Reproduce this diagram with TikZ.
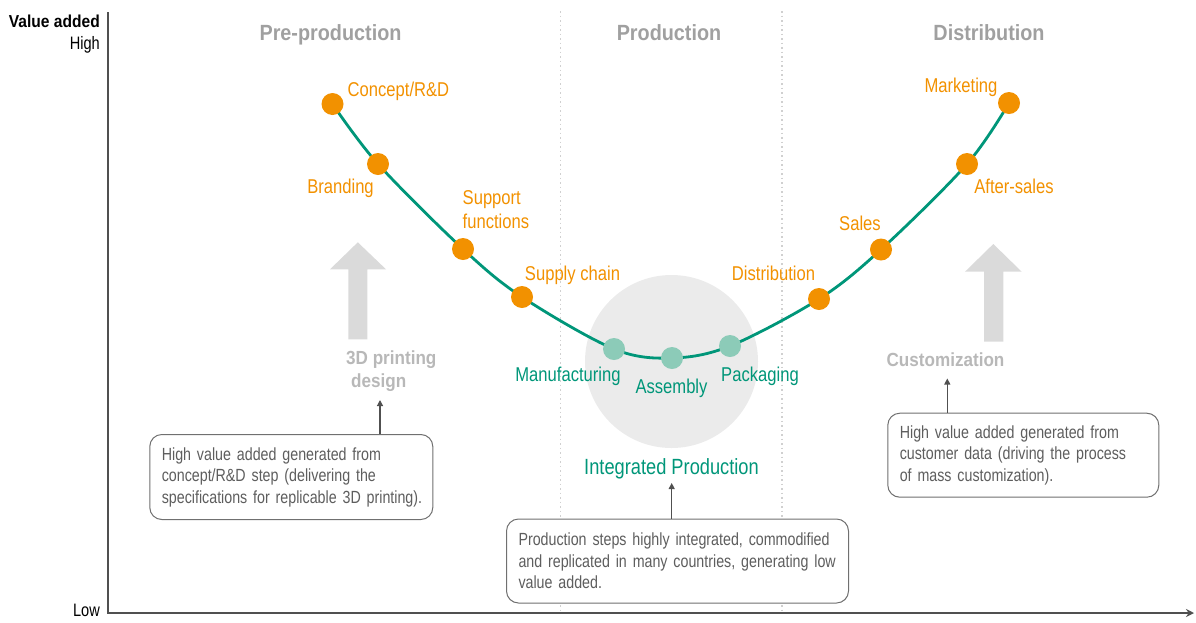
\documentclass[tikz,border=0pt]{standalone}
\usepackage{fontspec}
\setmainfont{Liberation Sans}[FakeStretch=0.81]
\newfontfamily\hdfont{Liberation Sans}[FakeStretch=0.9]
\newfontfamily\lbfont{Liberation Sans}[FakeStretch=0.83]
\usetikzlibrary{arrows.meta}
\definecolor{orng}{HTML}{F29100}
\definecolor{teal}{HTML}{009679}
\definecolor{lteal}{HTML}{8CCBB8}
\definecolor{hdgray}{HTML}{A0A0A0}
\definecolor{subgray}{HTML}{B8B8B8}
\definecolor{arrgray}{HTML}{DADADA}
\definecolor{circgray}{HTML}{EBEBEB}
\definecolor{axgray}{HTML}{505050}
\definecolor{boxgray}{HTML}{707070}
\definecolor{txtgray}{HTML}{5E5E5E}
\definecolor{dotgray}{HTML}{D0D0D0}
\begin{document}
\begin{tikzpicture}[x=1pt,y=-1pt,
  lbl/.style={font=\lbfont\fontsize{20}{24}\selectfont, text=orng, inner sep=0pt, text height=14pt, text depth=0pt},
  mlbl/.style={font=\lbfont\fontsize{20}{24}\selectfont, text=orng, inner sep=0pt, align=left},
  tlbl/.style={lbl, text=teal},
  hdr/.style={font=\hdfont\bfseries\fontsize{22}{26}\selectfont, text=hdgray, inner sep=0pt, text height=16pt, text depth=0pt},
  sublbl/.style={font=\hdfont\bfseries\fontsize{19}{23.5}\selectfont, text=subgray, inner sep=0pt},
  axlbl/.style={font=\fontsize{18}{20}\selectfont, inner sep=0pt, text height=12.5pt, text depth=0pt, anchor=east},
  odot/.style={circle, fill=orng, minimum size=22pt, inner sep=0pt},
  tdot/.style={circle, fill=lteal, minimum size=22pt, inner sep=0pt},
  note/.style={draw=boxgray, line width=1pt, rounded corners=12pt, fill=white, anchor=north west, align=left, inner xsep=12pt, inner ysep=0pt, text=txtgray, font=\fontsize{17.6}{21.5}\selectfont},
  smallarr/.style={draw=axgray, line width=1.2pt, -{Triangle[length=6pt,width=6pt]}},
  divider/.style={draw=dotgray, line width=1.6pt, dash pattern=on 1.6pt off 2.9pt},
  blockarr/.style={fill=arrgray}
]
\useasboundingbox (0,0) rectangle (1196,622);

% dividers
\coordinate (d1t) at (560.5,11);
\coordinate (d1b) at (560.5,612);
\coordinate (d2t) at (782,11);
\coordinate (d2b) at (782,612);
\draw[divider] (d1t) -- (d1b);
\draw[divider] (d2t) -- (d2b);

% axes
\coordinate (ytop) at (108,12);
\coordinate (orig) at (108,613);
\coordinate (xend) at (1194,613);
\draw[axgray, line width=2.2pt, -{Stealth[length=8pt,width=8pt]}] (ytop) -- (orig) -- (xend);
\node[axlbl, font=\hdfont\bfseries\fontsize{17.3}{20}\selectfont] (va) at (100,21) {Value added};
\node[axlbl] (hi) at (100,43) {High};
\node[axlbl] (lo) at (100,610) {Low};

% headers
\node[hdr] (h1) at (330.5,32) {Pre-production};
\node[hdr] (h2) at (669,32) {Production};
\node[hdr] (h3) at (989,32) {Distribution};

% production circle
\node[circle, fill=circgray, minimum size=173pt, inner sep=0pt] (pc) at (671.5,361.5) {};

% curve points
\coordinate (p1) at (332.5,104);
\coordinate (p2) at (378,164);
\coordinate (p3) at (463,249);
\coordinate (p4) at (522,297);
\coordinate (p5) at (614,349);
\coordinate (p6) at (672,358);
\coordinate (p7) at (730,346);
\coordinate (p8) at (819,299);
\coordinate (p9) at (881,249.5);
\coordinate (p10) at (967,164);
\coordinate (p11) at (1009,103);
\draw[teal, line width=2.8pt] plot[smooth, tension=0.55] coordinates {(p1) (p2) (p3) (p4) (p5) (p6) (p7) (p8) (p9) (p10) (p11)};

\node[odot] (n1) at (p1) {};
\node[odot] (n2) at (p2) {};
\node[odot] (n3) at (p3) {};
\node[odot] (n4) at (p4) {};
\node[tdot] (n5) at (p5) {};
\node[tdot] (n6) at (p6) {};
\node[tdot] (n7) at (p7) {};
\node[odot] (n8) at (p8) {};
\node[odot] (n9) at (p9) {};
\node[odot] (n10) at (p10) {};
\node[odot] (n11) at (p11) {};

% labels
\node[lbl, anchor=west] (l1) at (347.5,89) {Concept/R\&D};
\node[lbl] (l2) at (340.5,186) {Branding};
\node[mlbl, anchor=west] (l3) at (462.5,210) {Support\\functions};
\node[lbl] (l4) at (572.5,273) {Supply chain};
\node[tlbl] (l5) at (568,374) {Manufacturing};
\node[tlbl] (l6) at (671.5,386) {Assembly};
\node[tlbl] (l7) at (760,374) {Packaging};
\node[lbl] (l8) at (773.5,273) {Distribution};
\node[lbl] (l9) at (860,223) {Sales};
\node[lbl] (l10) at (1014,186) {After-sales};
\node[lbl] (l11) at (961,85) {Marketing};
\node[tlbl, font=\lbfont\fontsize{22}{26}\selectfont, text height=15.5pt] (ip) at (671.5,467) {Integrated Production};

% block arrows
\fill[blockarr] (348.3,339.3) -- (348.3,269.3) -- (330,269.3) -- (357.8,242.3) -- (386,269.3) -- (367.3,269.3) -- (367.3,339.3) -- cycle;
\fill[blockarr] (984,341.7) -- (984,271.7) -- (965,271.7) -- (993.3,244) -- (1021.7,271.7) -- (1003.3,271.7) -- (1003.3,341.7) -- cycle;

\node[sublbl, anchor=west, align=left] (s1) at (346,371) {3D printing\\\hspace*{5pt}design};
\node[sublbl, text height=13.5pt, text depth=0pt] (s2) at (945.5,360) {Customization};

% notes
\node[note, text width=259pt, minimum height=85pt] (b1) at (149.3,434) {\mbox{High value added generated from}\\\mbox{concept/R\&D step (delivering the}\\\mbox{specifications for replicable 3D printing).}};
\node[note, text width=318pt, minimum height=84pt] (b2) at (506,518.5) {\mbox{Production steps highly integrated, commodified}\\\mbox{and replicated in many countries, generating low}\\value added.};
\node[note, text width=247pt, minimum height=84pt] (b3) at (887.3,412.7) {\mbox{High value added generated from}\\\mbox{customer data (driving the process}\\\mbox{of mass customization).}};

% small arrows
\coordinate (t1) at (380,400);
\coordinate (t2) at (671.7,483);
\coordinate (t3) at (947.3,378.5);
\draw[smallarr] (b1.north -| t1) -- (t1);
\draw[smallarr] (b2.north -| t2) -- (t2);
\draw[smallarr] (b3.north -| t3) -- (t3);
\end{tikzpicture}
\end{document}
